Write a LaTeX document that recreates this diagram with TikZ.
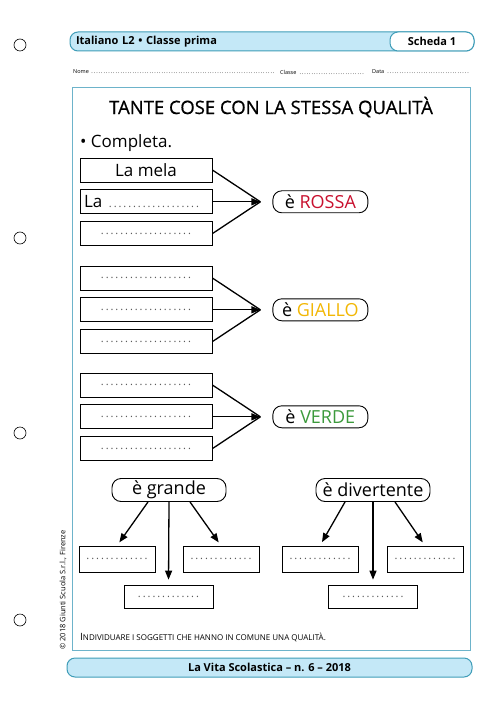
\documentclass[tikz,border=0pt]{standalone}
\usepackage{fontspec}
\setmainfont{Open Sans}
\newfontfamily\titolofont[FakeBold=0.7]{Open Sans}
\usetikzlibrary{arrows.meta,positioning}
\definecolor{barblue}{HTML}{C4E8F7}
\definecolor{barline}{HTML}{3F9DB8}
\definecolor{framecol}{HTML}{6DB3CA}
\definecolor{rosso}{HTML}{C8102E}
\definecolor{giallo}{HTML}{F2B705}
\definecolor{verde}{HTML}{3C9A3C}
\newcommand{\righe}[1]{{\color{black!65}\fontsize{11}{11}\selectfont\makebox[#1]{\dotfill}}}

\begin{document}
\begin{tikzpicture}[x=1pt, y=-1pt, node distance=7pt and 60pt, every node/.style={font=\fontsize{17}{20}\selectfont}]
\tikzset{box/.style={draw, line width=0.8pt, minimum width=132pt, minimum height=24pt, inner sep=0pt}}
\tikzset{pill/.style={draw, line width=0.9pt, rounded corners=9pt, minimum width=95pt, minimum height=22pt, inner sep=0pt, font=\fontsize{18}{20}\selectfont}}
\tikzset{smallbox/.style={draw, line width=0.7pt, minimum width=76pt, minimum height=26pt, inner sep=0pt}}
\tikzset{arrow/.style={-{Triangle[length=9pt,width=7pt]}, line width=1.3pt}}
\tikzset{bar/.style={draw=barline, fill=barblue, line width=1pt, rounded corners=8pt, minimum height=19pt, inner sep=0pt, font=\bfseries\fontsize{11}{12}\selectfont}}
\useasboundingbox (0,0) rectangle (500,708);
\fill[white] (0,0) rectangle (500,708);

% fori
\draw[line width=0.6pt] (20,45) circle[radius=6pt];
\draw[line width=0.6pt] (20,238) circle[radius=6pt];
\draw[line width=0.6pt] (20,433) circle[radius=6pt];
\draw[line width=0.6pt] (20,620) circle[radius=6pt];

% testata
\node[bar, minimum width=404pt, text width=392pt, align=left] (testata) at (272,41.5) {Italiano L2 • Classe prima};
\node[bar, fill=white, minimum width=84pt] (scheda) at (432,41.5) {Scheda 1};
\node[anchor=west, inner sep=0pt, text width=202pt, font=\fontsize{5.5}{6}\selectfont] (nome) at (73,72) {Nome \dotfill};
\node[anchor=west, inner sep=0pt, text width=85pt, font=\fontsize{5.5}{6}\selectfont] (classe) at (280,72) {Classe \dotfill};
\node[anchor=west, inner sep=0pt, text width=98pt, font=\fontsize{5.5}{6}\selectfont] (data) at (372,72) {Data \dotfill};

\draw[framecol, line width=1pt] (72,88) rectangle (470,650);
\node[font=\titolofont\fontsize{18.5}{20}\selectfont] (titolo) at (271,107) {TANTE COSE CON LA STESSA QUALITÀ};
\node[anchor=west, inner sep=0pt] (consegna) at (80,143) {• Completa.};

% rossa
\node[box] (r1) at (146,170) {La mela};
\node[box, below=of r1, text width=124pt, align=left] (r2) {La \righe{92pt}};
\node[box, below=of r2] (r3) {\righe{92pt}};
\node[pill, right=of r2] (rossa) {è \textcolor{rosso}{ROSSA}};
\coordinate[left=12pt of rossa] (rtip);
\draw[line width=1.3pt] (r1.east) -- (rtip);
\draw[line width=1.3pt] (r3.east) -- (rtip);
\draw[arrow] (r2.east) -- (rtip);

% giallo
\node[box] (g1) at (146,278) {\righe{92pt}};
\node[box, below=of g1] (g2) {\righe{92pt}};
\node[box, below=of g2] (g3) {\righe{92pt}};
\node[pill, right=of g2] (gialla) {è \textcolor{giallo}{GIALLO}};
\coordinate[left=12pt of gialla] (gtip);
\draw[line width=1.3pt] (g1.east) -- (gtip);
\draw[line width=1.3pt] (g3.east) -- (gtip);
\draw[arrow] (g2.east) -- (gtip);

% verde
\node[box] (v1) at (146,385) {\righe{92pt}};
\node[box, below=of v1] (v2) {\righe{92pt}};
\node[box, below=of v2] (v3) {\righe{92pt}};
\node[pill, right=of v2] (verdi) {è \textcolor{verde}{VERDE}};
\coordinate[left=12pt of verdi] (vtip);
\draw[line width=1.3pt] (v1.east) -- (vtip);
\draw[line width=1.3pt] (v3.east) -- (vtip);
\draw[arrow] (v2.east) -- (vtip);

% grande / divertente
\node[pill, minimum width=114pt, minimum height=23pt] (grande) at (169,490) {è grande};
\node[smallbox] (l1) at (117,559) {\righe{64pt}};
\node[smallbox] (l2) at (221,559) {\righe{64pt}};
\node[smallbox, minimum width=89pt, minimum height=23pt] (l3) at (168.5,596.5) {\righe{64pt}};
\draw[arrow, shorten >=4pt] ([xshift=-21pt]grande.south) -- (l1.north);
\draw[arrow, shorten >=5pt] (grande.south) -- (l3.north);
\draw[arrow, shorten >=4pt] ([xshift=21pt]grande.south) -- (l2.north);

\node[pill, minimum width=114pt, minimum height=23pt] (divertente) at (373,490) {è divertente};
\node[smallbox] (d1) at (320,559) {\righe{64pt}};
\node[smallbox] (d2) at (425,559) {\righe{64pt}};
\node[smallbox, minimum width=89pt, minimum height=23pt] (d3) at (373,596.5) {\righe{64pt}};
\draw[arrow, shorten >=4pt] ([xshift=-28pt]divertente.south) -- (d1.north);
\draw[arrow, shorten >=5pt] (divertente.south) -- (d3.north);
\draw[arrow, shorten >=4pt] ([xshift=22pt]divertente.south) -- (d2.north);

% piede
\node[anchor=west, inner sep=0pt, font=\fontsize{8}{9}\selectfont] (obiettivo) at (80,637) {{\fontsize{10}{10}\selectfont I}NDIVIDUARE I SOGGETTI CHE HANNO IN COMUNE UNA QUALITÀ.};
\node[rotate=90, font=\fontsize{7.5}{8}\selectfont] (copyright) at (63,590) {© 2018 Giunti Scuola S.r.l., Firenze};
\node[bar, minimum width=405pt] (rivista) at (269.5,667.5) {La Vita Scolastica – n. 6 – 2018};
\end{tikzpicture}
\end{document}
